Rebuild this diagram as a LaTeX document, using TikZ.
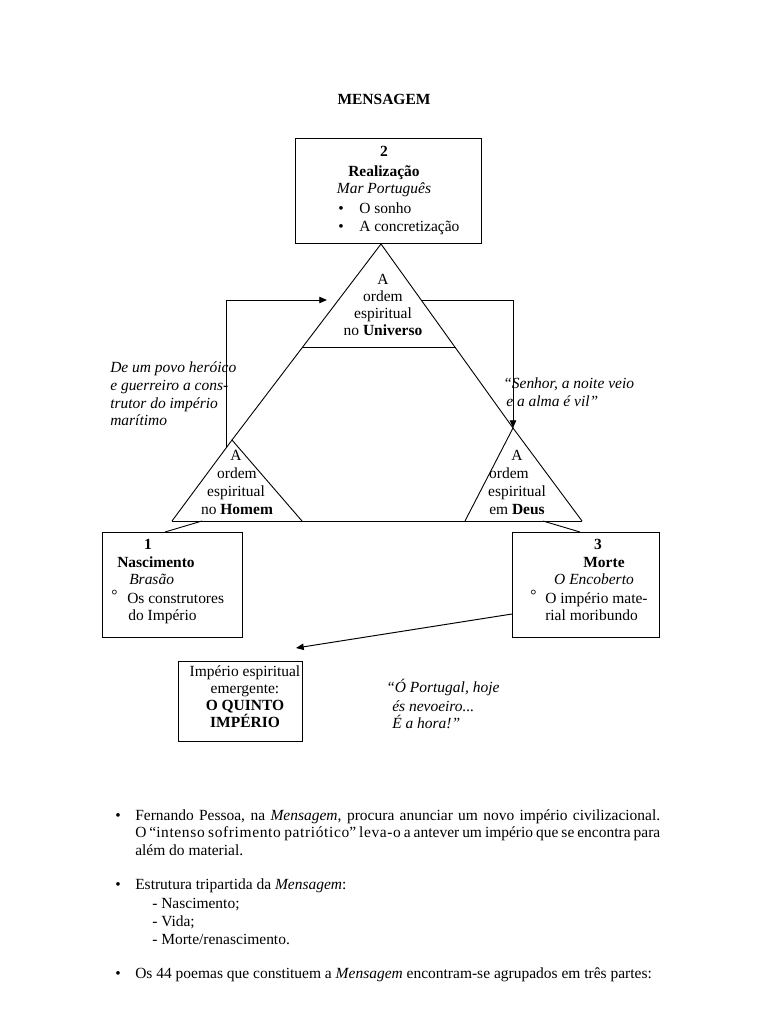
\documentclass[tikz,border=0pt]{standalone}
\usepackage{fontspec}
\setmainfont{Liberation Serif}
\usetikzlibrary{arrows.meta}
\newcommand{\odd}[1]{{\addfontfeatures{LetterSpace=4}#1}}
\begin{document}
\begin{tikzpicture}[x=0.7747pt,y=-0.7747pt,
  every node/.style={font=\fontsize{12}{14}\selectfont, inner sep=0pt},
  boxs/.style={draw, line width=0.75pt, anchor=north west},
  ln/.style={line width=0.7pt},
  arr/.style={line width=0.75pt, -{Triangle[length=6pt,width=5pt]}},
  lt/.style={anchor=base west},
  ct/.style={anchor=base}]
\useasboundingbox (0,0) rectangle (768,1024);

% title
\node[ct] (title) at (384,105) {\textbf{MENSAGEM}};

% box 2
\node[boxs, minimum width=186*0.7747pt, minimum height=105*0.7747pt] (box2) at (295,138) {};
\node[ct] (n2) at (384,157) {\textbf{2}};
\node[ct] (real) at (384,177) {\textbf{Realização}};
\node[ct] (mar) at (384,194) {\textit{Mar Português}};
\node[lt] (b2a) at (338,214) {•};
\node[lt] (sonho) at (359,214) {O sonho};
\node[lt] (b2b) at (338,232) {•};
\node[lt] (concr) at (359,232) {A concretização};

% triangles
\coordinate (T) at (381,244);
\coordinate (L) at (232,440);
\coordinate (R) at (513,428);
\coordinate (hl) at (302,347);
\coordinate (hr) at (456,347);
\coordinate (Lb1) at (172,521);
\coordinate (Lb2) at (302,521);
\coordinate (Rb1) at (465,521);
\coordinate (Rb2) at (582,521);
\draw[ln] (L) -- (T) -- (R);
\draw[ln] (hl) -- (hr);
\draw[ln] (Lb1) -- (L) -- (Lb2);
\draw[ln] (Rb1) -- (R) -- (Rb2);
\draw[ln] (Lb1) -- (Rb2);

\node[ct] (tu1) at (383,284) {A};
\node[ct] (tu2) at (383,301) {ordem};
\node[ct] (tu3) at (383,318) {espiritual};
\node[ct] (tu4) at (383,335) {no \textbf{Universo}};

\node[ct] (th1) at (236,460) {A};
\node[ct] (th2) at (237,478) {ordem};
\node[ct] (th3) at (236,496) {espiritual};
\node[ct] (th4) at (237,514) {no \textbf{Homem}};

\node[ct] (td1) at (517,460) {A};
\node[ct] (td2) at (509,478) {ordem};
\node[ct] (td3) at (517,496) {espiritual};
\node[ct] (td4) at (517,514) {em \textbf{Deus}};

% arrows around the triangle
\coordinate (la0) at (226,448);
\coordinate (la1) at (226,300);
\coordinate (la2) at (327,300);
\draw[arr] (la0) -- (la1) -- (la2);
\coordinate (ra0) at (421,300);
\coordinate (ra1) at (513,300);
\draw[arr] (ra0) -- (ra1) -- (R);

% side quotes
\node[lt] (q1a) at (110,372) {\textit{De um povo heróico}};
\node[lt] (q1b) at (110,390) {\textit{e guerreiro a cons-}};
\node[lt] (q1c) at (110,408) {\textit{trutor do império}};
\node[lt] (q1d) at (110,425) {\textit{marítimo}};

\node[lt] (q2a) at (503,388) {\textit{“Senhor, a noite veio}};
\node[lt] (q2b) at (506,406) {\textit{e a alma é vil”}};

% box 1
\node[boxs, minimum width=140*0.7747pt, minimum height=105*0.7747pt] (box1) at (102,532) {};
\coordinate (c1a) at (202,521);
\coordinate (c1b) at (165,532);
\draw[ln] (c1a) -- (c1b);
\node[ct] (n1) at (148,549) {\textbf{1}};
\node[lt] (nasc) at (117,567) {\textbf{Nascimento}};
\node[lt] (bras) at (129,584) {\textit{Brasão}};
\node[lt] (d1) at (111,600) {°};
\node[lt] (cons) at (127,603) {Os construtores};
\node[lt] (imp) at (128,620) {do Império};

% box 3
\node[boxs, minimum width=147*0.7747pt, minimum height=105*0.7747pt] (box3) at (512,532) {};
\coordinate (c3a) at (543,521);
\coordinate (c3b) at (580,532);
\draw[ln] (c3a) -- (c3b);
\node[ct] (n3) at (598,549) {\textbf{3}};
\node[ct] (morte) at (604,567) {\textbf{Morte}};
\node[ct] (enc) at (594,584) {\textit{O Encoberto}};
\node[lt] (d3) at (530,600) {°};
\node[lt] (impm) at (545,603) {O império mate-};
\node[lt] (mori) at (545,620) {rial moribundo};

% box 4
\node[boxs, minimum width=124*0.7747pt, minimum height=80*0.7747pt] (box4) at (178,661) {};
\coordinate (a3) at (512,614);
\coordinate (a4) at (296,648);
\draw[arr] (a3) -- (a4);
\node[ct] (e1) at (245,676) {Império espiritual};
\node[ct] (e2) at (245,693) {emergente:};
\node[ct] (e3) at (245,710) {\textbf{O QUINTO}};
\node[ct] (e4) at (245,727) {\textbf{IMPÉRIO}};

\node[lt] (p1) at (386,692) {\textit{“Ó Portugal, hoje}};
\node[lt] (p2) at (392,711) {\textit{és nevoeiro...}};
\node[lt] (p3) at (392,728) {\textit{É a hora!”}};

% bottom text
\node[lt] (bu1) at (115,820) {•};
\node[lt] (t1a) at (135,820) {\makebox[406.7pt][s]{Fernando Pessoa, na \textit{Mensagem}, procura anunciar um novo império civilizacional.}};
\node[lt] (t1b) at (135,837) {\makebox[406.7pt][s]{O “\odd{intenso sofrimento patriótico}” \odd{leva-o} a antever um império que se encontra para}};
\node[lt] (t1c) at (135,855) {além do material.};
\node[lt] (bu2) at (115,889) {•};
\node[lt] (t2a) at (135,889) {Estrutura tripartida da \textit{Mensagem}:};
\node[lt] (t2b) at (152,908) {- Nascimento;};
\node[lt] (t2c) at (152,926) {- Vida;};
\node[lt] (t2d) at (152,944) {- Morte/renascimento.};
\node[lt] (bu3) at (115,978) {•};
\node[lt] (t3a) at (135,978) {Os 44 poemas que constituem a \textit{Mensagem} encontram-se agrupados em três partes:};
\end{tikzpicture}
\end{document}
